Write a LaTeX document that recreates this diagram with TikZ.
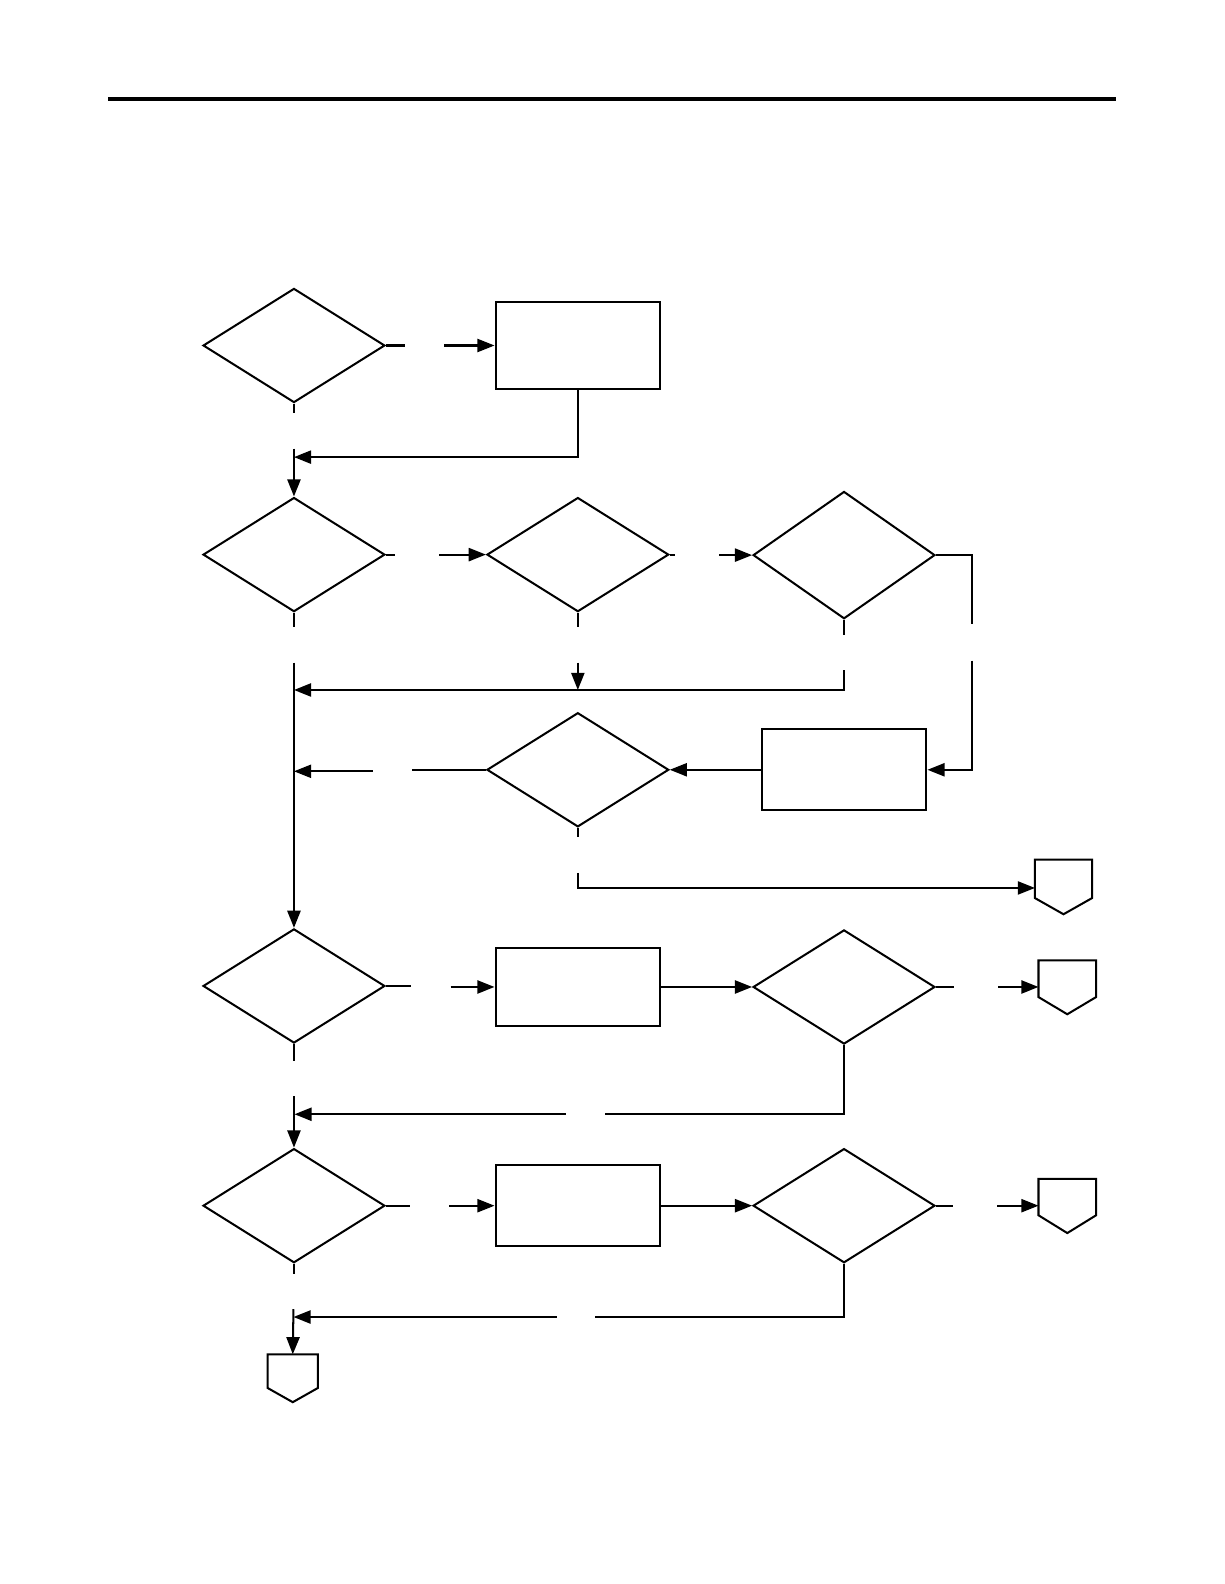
\documentclass[tikz,border=0pt]{standalone}
\usetikzlibrary{shapes.geometric,arrows.meta}
\begin{document}
\begin{tikzpicture}[x=0.5pt,y=-0.5pt,line width=1pt,
  dia/.style={shape=diamond,draw,inner sep=0pt,minimum width=90pt,minimum height=56.5pt},
  box/.style={shape=rectangle,draw,inner sep=0pt,minimum width=81.5pt},
  pent/.style={shape=rectangle,inner sep=0pt},
  arr/.style={-{Triangle[length=8.5pt,width=6.5pt]}},
  rule/.style={line width=1.6pt}]
\useasboundingbox (0,0) rectangle (1212,1568);
\draw[rule] (107,98) -- (1105,98);
% nodes
\node[dia] (A) at (291,342) {};
\node[box,minimum height=43pt] (B) at (572,342) {};
\node[dia] (C) at (291,549) {};
\node[dia] (D) at (572,549) {};
\node[dia,minimum height=63pt] (E) at (835.5,549.5) {};
\node[dia] (F) at (572,762) {};
\node[box,minimum height=40pt] (G) at (835.6,762) {};
\node[dia] (H) at (291,976) {};
\node[box,minimum height=39pt] (I) at (572,977) {};
\node[dia] (J) at (835.5,977) {};
\node[dia] (K) at (291,1193.5) {};
\node[box,minimum height=39.8pt] (L) at (572,1193.5) {};
\node[dia] (M) at (835.5,1193.5) {};
% off-page connectors
\node[pent,minimum width=27.25pt,minimum height=18pt] (P1) at (1052.75,870) {};
\node[pent,minimum width=27.5pt,minimum height=17.2pt] (P2) at (1056.5,968.8) {};
\node[pent,minimum width=27.5pt,minimum height=17pt] (P3) at (1056.5,1185) {};
\node[pent,minimum width=23.8pt,minimum height=15.7pt] (P4) at (289.8,1357.3) {};
\draw (P1.north west) -- (P1.north east) -- (P1.south east) -- ([yshift=-8pt]P1.south) -- (P1.south west) -- cycle;
\draw (P2.north west) -- (P2.north east) -- (P2.south east) -- ([yshift=-8.5pt]P2.south) -- (P2.south west) -- cycle;
\draw (P3.north west) -- (P3.north east) -- (P3.south east) -- ([yshift=-8.8pt]P3.south) -- (P3.south west) -- cycle;
\draw (P4.north west) -- (P4.north east) -- (P4.south east) -- ([yshift=-7pt]P4.south) -- (P4.south west) -- cycle;
% free ends
\coordinate (a1) at (401,342); \coordinate (a2) at (440,342);
\coordinate (a3) at (291,409);
\coordinate (b1) at (291,452.5); \coordinate (b2) at (291,444);
\coordinate (c1) at (391,549); \coordinate (c2) at (435,549);
\coordinate (c3) at (291,620.5); \coordinate (c4) at (291,656);
\coordinate (d1) at (668,549); \coordinate (d2) at (712,549.5);
\coordinate (d3) at (572,621); \coordinate (d4) at (572,656); \coordinate (d5) at (572,683);
\coordinate (e1) at (962,618); \coordinate (e2) at (962,654);
\coordinate (e3) at (835.5,629); \coordinate (e4) at (835.5,663.5); \coordinate (e5) at (291,683);
\coordinate (f1) at (407.5,762); \coordinate (f2) at (369,763.5); \coordinate (f3) at (291,763.5);
\coordinate (f4) at (572,828.5); \coordinate (f5) at (572,864); \coordinate (f6) at (572,879);
\coordinate (h1) at (407,976); \coordinate (h2) at (446,977);
\coordinate (h3) at (291,1050); \coordinate (h4) at (291,1085);
\coordinate (j1) at (944,977); \coordinate (j2) at (988,977);
\coordinate (j3) at (599,1103); \coordinate (j4) at (560,1103); \coordinate (j5) at (291.5,1103);
\coordinate (k1) at (406,1193.5); \coordinate (k2) at (444.6,1193.5);
\coordinate (k3) at (291,1261); \coordinate (k4) at (290.5,1296);
\coordinate (m1) at (943,1193.5); \coordinate (m2) at (987,1193.5);
\coordinate (m3) at (589,1303.7); \coordinate (m4) at (551,1303.7); \coordinate (m5) at (290.5,1303.7);
% connectors
\draw (A.east) -- (a1); \draw[arr] (a2) -- (B.west);
\draw (A.south) -- (a3);
\draw[arr] (B.south) |- (b1);
\draw[arr] (b2) -- (C.north);
\draw (C.east) -- (c1); \draw[arr] (c2) -- (D.west);
\draw (D.east) -- (d1); \draw[arr] (d2) -- (E.west);
\draw (E.east) -| (e1); \draw[arr] (e2) |- (G.east);
\draw (C.south) -- (c3); \draw (D.south) -- (d3); \draw (E.south) -- (e3);
\draw[arr] (c4) -- (H.north);
\draw[arr] (d4) -- (d5);
\draw[arr] (e4) |- (e5);
\draw[arr] (G.west) -- (F.east);
\draw (F.west) -- (f1); \draw[arr] (f2) -- (f3);
\draw (F.south) -- (f4); \draw[arr] (f5) -- (f6) -- (f6 -| P1.west);
\draw (H.east) -- (h1); \draw[arr] (h2) -- (I.west);
\draw[arr] (I.east) -- (J.west);
\draw (J.east) -- (j1); \draw[arr] (j2) -- (j2 -| P2.west);
\draw (H.south) -- (h3);
\draw (J.south) |- (j3); \draw[arr] (j4) -- (j5);
\draw[arr] (h4) -- (K.north);
\draw (K.east) -- (k1); \draw[arr] (k2) -- (L.west);
\draw[arr] (L.east) -- (M.west);
\draw (M.east) -- (m1); \draw[arr] (m2) -- (m2 -| P3.west);
\draw (K.south) -- (k3);
\draw (M.south) |- (m3); \draw[arr] (m4) -- (m5);
\draw[arr] (k4) -- (P4.north);
\end{tikzpicture}
\end{document}
